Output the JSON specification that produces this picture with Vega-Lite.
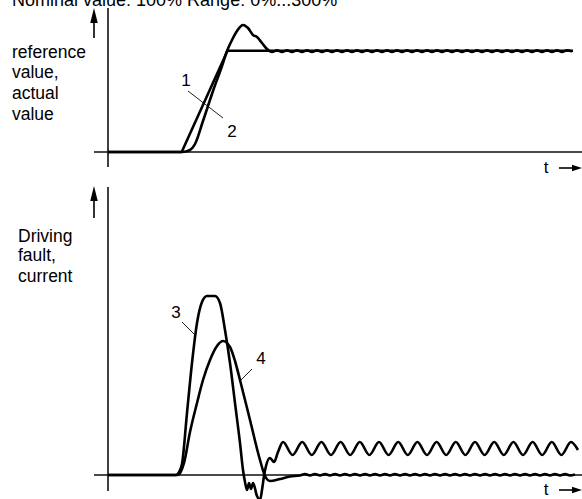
{
  "$schema": "https://vega.github.io/schema/vega-lite/v6.json",
  "width": 582,
  "height": 499,
  "autosize": {"type": "none"},
  "padding": 0,
  "background": "white",
  "config": {"view": {"stroke": null}, "font": "Liberation Sans"},
  "datasets": {
    "vaxes": [{"t": 108, "v": 8, "v2": 167}, {"t": 108, "v": 187, "v2": 491}],
    "haxes": [{"t": 94, "t2": 582, "v": 152}, {"t": 94, "t2": 582, "v": 475}],
    "upshaft": [{"t": 94, "v": 20, "v2": 38}, {"t": 94, "v": 198, "v2": 218}],
    "rshaft": [{"t": 559, "t2": 575, "v": 168}, {"t": 559, "t2": 575, "v": 490}],
    "upheads": [{"t": 94, "v": 15.5}, {"t": 94, "v": 193.5}],
    "rheads": [{"t": 577, "v": 168}, {"t": 577, "v": 490}],
    "leaders": [
      {"t": 188, "v": 91, "t2": 223, "v2": 118},
      {"t": 182, "v": 322, "t2": 195, "v2": 335},
      {"t": 252, "v": 369, "t2": 239, "v2": 382}
    ],
    "ramp": [
      {"s": "1", "t": 108, "v": 152},
      {"s": "1", "t": 181.7, "v": 152},
      {"s": "1", "t": 227.5, "v": 50.7},
      {"s": "1", "t": 573, "v": 50.7}
    ],
    "curves": [
      {"s": "2", "t": 108, "v": 152}, {"s": "2", "t": 182, "v": 152}, {"s": "2", "t": 190, "v": 150},
      {"s": "2", "t": 195, "v": 144}, {"s": "2", "t": 203, "v": 121}, {"s": "2", "t": 213, "v": 91},
      {"s": "2", "t": 222, "v": 66}, {"s": "2", "t": 227, "v": 51}, {"s": "2", "t": 232, "v": 40},
      {"s": "2", "t": 237, "v": 31}, {"s": "2", "t": 243, "v": 25}, {"s": "2", "t": 248, "v": 28},
      {"s": "2", "t": 253, "v": 35}, {"s": "2", "t": 257, "v": 37}, {"s": "2", "t": 262, "v": 43},
      {"s": "2", "t": 267, "v": 49},
      {"s": "2", "t": 272, "v": 52}, {"s": "2", "t": 277, "v": 50.3}, {"s": "2", "t": 282, "v": 52},
      {"s": "2", "t": 287, "v": 50.3}, {"s": "2", "t": 292, "v": 52}, {"s": "2", "t": 297, "v": 50.3},
      {"s": "2", "t": 302, "v": 52}, {"s": "2", "t": 307, "v": 50.3}, {"s": "2", "t": 312, "v": 52},
      {"s": "2", "t": 317, "v": 50.3}, {"s": "2", "t": 322, "v": 52}, {"s": "2", "t": 327, "v": 50.3},
      {"s": "2", "t": 332, "v": 52}, {"s": "2", "t": 337, "v": 50.3}, {"s": "2", "t": 342, "v": 52},
      {"s": "2", "t": 347, "v": 50.3}, {"s": "2", "t": 352, "v": 52}, {"s": "2", "t": 357, "v": 50.3},
      {"s": "2", "t": 362, "v": 52}, {"s": "2", "t": 367, "v": 50.3}, {"s": "2", "t": 372, "v": 52},
      {"s": "2", "t": 377, "v": 50.3}, {"s": "2", "t": 382, "v": 52}, {"s": "2", "t": 387, "v": 50.3},
      {"s": "2", "t": 392, "v": 52}, {"s": "2", "t": 397, "v": 50.3}, {"s": "2", "t": 402, "v": 52},
      {"s": "2", "t": 407, "v": 50.3}, {"s": "2", "t": 412, "v": 52}, {"s": "2", "t": 417, "v": 50.3},
      {"s": "2", "t": 422, "v": 52}, {"s": "2", "t": 427, "v": 50.3}, {"s": "2", "t": 432, "v": 52},
      {"s": "2", "t": 437, "v": 50.3}, {"s": "2", "t": 442, "v": 52}, {"s": "2", "t": 447, "v": 50.3},
      {"s": "2", "t": 452, "v": 52}, {"s": "2", "t": 457, "v": 50.3}, {"s": "2", "t": 462, "v": 52},
      {"s": "2", "t": 467, "v": 50.3}, {"s": "2", "t": 472, "v": 52}, {"s": "2", "t": 477, "v": 50.3},
      {"s": "2", "t": 482, "v": 52}, {"s": "2", "t": 487, "v": 50.3}, {"s": "2", "t": 492, "v": 52},
      {"s": "2", "t": 497, "v": 50.3}, {"s": "2", "t": 502, "v": 52}, {"s": "2", "t": 507, "v": 50.3},
      {"s": "2", "t": 512, "v": 52}, {"s": "2", "t": 517, "v": 50.3}, {"s": "2", "t": 522, "v": 52},
      {"s": "2", "t": 527, "v": 50.3}, {"s": "2", "t": 532, "v": 52}, {"s": "2", "t": 537, "v": 50.3},
      {"s": "2", "t": 542, "v": 52}, {"s": "2", "t": 547, "v": 50.3}, {"s": "2", "t": 552, "v": 52},
      {"s": "2", "t": 557, "v": 50.3}, {"s": "2", "t": 562, "v": 52}, {"s": "2", "t": 567, "v": 50.3},
      {"s": "2", "t": 572, "v": 51.5},

      {"s": "3", "t": 108, "v": 475}, {"s": "3", "t": 176, "v": 475}, {"s": "3", "t": 179, "v": 472},
      {"s": "3", "t": 182, "v": 464}, {"s": "3", "t": 187, "v": 413}, {"s": "3", "t": 192, "v": 363},
      {"s": "3", "t": 197, "v": 323}, {"s": "3", "t": 202, "v": 302}, {"s": "3", "t": 207, "v": 296},
      {"s": "3", "t": 215, "v": 296}, {"s": "3", "t": 220, "v": 303}, {"s": "3", "t": 225, "v": 330},
      {"s": "3", "t": 230, "v": 363}, {"s": "3", "t": 235, "v": 403}, {"s": "3", "t": 240, "v": 443},
      {"s": "3", "t": 243, "v": 470}, {"s": "3", "t": 245, "v": 482}, {"s": "3", "t": 247, "v": 490},
      {"s": "3", "t": 249, "v": 483}, {"s": "3", "t": 251, "v": 489}, {"s": "3", "t": 253, "v": 483},
      {"s": "3", "t": 257, "v": 496}, {"s": "3", "t": 260, "v": 500}, {"s": "3", "t": 262, "v": 490},
      {"s": "3", "t": 264, "v": 476}, {"s": "3", "t": 266, "v": 466}, {"s": "3", "t": 270, "v": 458},
      {"s": "3", "t": 274, "v": 462}, {"s": "3", "t": 278, "v": 452},
      {"s": "3", "t": 283, "v": 442}, {"s": "3", "t": 292.6, "v": 455},
      {"s": "3", "t": 302.2, "v": 442}, {"s": "3", "t": 311.8, "v": 455},
      {"s": "3", "t": 321.4, "v": 442}, {"s": "3", "t": 331, "v": 455},
      {"s": "3", "t": 340.6, "v": 442}, {"s": "3", "t": 350.2, "v": 455},
      {"s": "3", "t": 359.8, "v": 442}, {"s": "3", "t": 369.4, "v": 455},
      {"s": "3", "t": 379, "v": 442}, {"s": "3", "t": 388.6, "v": 455},
      {"s": "3", "t": 398.2, "v": 442}, {"s": "3", "t": 407.8, "v": 455},
      {"s": "3", "t": 417.4, "v": 442}, {"s": "3", "t": 427, "v": 455},
      {"s": "3", "t": 436.6, "v": 442}, {"s": "3", "t": 446.2, "v": 455},
      {"s": "3", "t": 455.8, "v": 442}, {"s": "3", "t": 465.4, "v": 455},
      {"s": "3", "t": 475, "v": 442}, {"s": "3", "t": 484.6, "v": 455},
      {"s": "3", "t": 494.2, "v": 442}, {"s": "3", "t": 503.8, "v": 455},
      {"s": "3", "t": 513.4, "v": 442}, {"s": "3", "t": 523, "v": 455},
      {"s": "3", "t": 532.6, "v": 442}, {"s": "3", "t": 542.2, "v": 455},
      {"s": "3", "t": 551.8, "v": 442}, {"s": "3", "t": 561.4, "v": 455},
      {"s": "3", "t": 571, "v": 442}, {"s": "3", "t": 578, "v": 450},

      {"s": "4", "t": 108, "v": 475}, {"s": "4", "t": 178, "v": 475}, {"s": "4", "t": 184, "v": 463},
      {"s": "4", "t": 190, "v": 432}, {"s": "4", "t": 197, "v": 403}, {"s": "4", "t": 203, "v": 380},
      {"s": "4", "t": 210, "v": 360}, {"s": "4", "t": 217, "v": 346}, {"s": "4", "t": 223, "v": 341},
      {"s": "4", "t": 230, "v": 347}, {"s": "4", "t": 235, "v": 361}, {"s": "4", "t": 240, "v": 380},
      {"s": "4", "t": 250, "v": 420}, {"s": "4", "t": 260, "v": 460}, {"s": "4", "t": 265, "v": 476},
      {"s": "4", "t": 270, "v": 481}, {"s": "4", "t": 280, "v": 479}, {"s": "4", "t": 290, "v": 476.5},
      {"s": "4", "t": 300, "v": 475.5},
      {"s": "4", "t": 305, "v": 474}, {"s": "4", "t": 310, "v": 475.4}, {"s": "4", "t": 315, "v": 474},
      {"s": "4", "t": 320, "v": 475.4}, {"s": "4", "t": 325, "v": 474}, {"s": "4", "t": 330, "v": 475.4},
      {"s": "4", "t": 335, "v": 474}, {"s": "4", "t": 340, "v": 475.4}, {"s": "4", "t": 345, "v": 474},
      {"s": "4", "t": 350, "v": 475.4}, {"s": "4", "t": 355, "v": 474}, {"s": "4", "t": 360, "v": 475.4},
      {"s": "4", "t": 365, "v": 474}, {"s": "4", "t": 370, "v": 475.4}, {"s": "4", "t": 375, "v": 474},
      {"s": "4", "t": 380, "v": 475.4}, {"s": "4", "t": 385, "v": 474}, {"s": "4", "t": 390, "v": 475.4},
      {"s": "4", "t": 395, "v": 474}, {"s": "4", "t": 400, "v": 475.4}, {"s": "4", "t": 405, "v": 474},
      {"s": "4", "t": 410, "v": 475.4}, {"s": "4", "t": 415, "v": 474}, {"s": "4", "t": 420, "v": 475.4},
      {"s": "4", "t": 425, "v": 474}, {"s": "4", "t": 430, "v": 475.4}, {"s": "4", "t": 435, "v": 474},
      {"s": "4", "t": 440, "v": 475.4}, {"s": "4", "t": 445, "v": 474}, {"s": "4", "t": 450, "v": 475.4},
      {"s": "4", "t": 455, "v": 474}, {"s": "4", "t": 460, "v": 475.4}, {"s": "4", "t": 465, "v": 474},
      {"s": "4", "t": 470, "v": 475.4}, {"s": "4", "t": 475, "v": 474}, {"s": "4", "t": 480, "v": 475.4},
      {"s": "4", "t": 485, "v": 474}, {"s": "4", "t": 490, "v": 475.4}, {"s": "4", "t": 495, "v": 474},
      {"s": "4", "t": 500, "v": 475.4}, {"s": "4", "t": 505, "v": 474}, {"s": "4", "t": 510, "v": 475.4},
      {"s": "4", "t": 515, "v": 474}, {"s": "4", "t": 520, "v": 475.4}, {"s": "4", "t": 525, "v": 474},
      {"s": "4", "t": 530, "v": 475.4}, {"s": "4", "t": 535, "v": 474}, {"s": "4", "t": 540, "v": 475.4},
      {"s": "4", "t": 545, "v": 474}, {"s": "4", "t": 550, "v": 475.4}, {"s": "4", "t": 555, "v": 474},
      {"s": "4", "t": 560, "v": 475.4}, {"s": "4", "t": 565, "v": 474}, {"s": "4", "t": 570, "v": 475.4},
      {"s": "4", "t": 575, "v": 474.5}
    ],
    "labels": [
      {"t": 12, "v": 53, "label": "reference"},
      {"t": 12, "v": 73, "label": "value,"},
      {"t": 12, "v": 94, "label": "actual"},
      {"t": 12, "v": 115, "label": "value"},
      {"t": 18, "v": 237, "label": "Driving"},
      {"t": 18, "v": 256, "label": "fault,"},
      {"t": 18, "v": 277, "label": "current"}
    ],
    "marks": [
      {"t": 186, "v": 81, "label": "1"},
      {"t": 232, "v": 132, "label": "2"},
      {"t": 176, "v": 313, "label": "3"},
      {"t": 261, "v": 359, "label": "4"},
      {"t": 546, "v": 168, "label": "t"},
      {"t": 546, "v": 490, "label": "t"}
    ],
    "title": [{"t": 12, "v": 5.5, "label": "Nominal value: 100%  Range: 0%...300%"}]
  },
  "layer": [
    {
      "data": {"name": "haxes"},
      "mark": {"type": "rule", "stroke": "#4a4a4a", "strokeWidth": 2},
      "encoding": {
        "x": {"field": "t", "type": "quantitative", "scale": {"domain": [0, 582], "nice": false, "zero": false}, "axis": null},
        "x2": {"field": "t2"},
        "y": {"field": "v", "type": "quantitative", "scale": {"domain": [0, 499], "reverse": true, "nice": false, "zero": false}, "axis": null}
      }
    },
    {
      "data": {"name": "vaxes"},
      "mark": {"type": "rule", "stroke": "#000", "strokeWidth": 1.5},
      "encoding": {
        "x": {"field": "t", "type": "quantitative", "axis": null},
        "y": {"field": "v", "type": "quantitative", "axis": null},
        "y2": {"field": "v2"}
      }
    },
    {
      "data": {"name": "upshaft"},
      "mark": {"type": "rule", "stroke": "#000", "strokeWidth": 1.6},
      "encoding": {
        "x": {"field": "t", "type": "quantitative", "axis": null},
        "y": {"field": "v", "type": "quantitative", "axis": null},
        "y2": {"field": "v2"}
      }
    },
    {
      "data": {"name": "rshaft"},
      "mark": {"type": "rule", "stroke": "#000", "strokeWidth": 1.6},
      "encoding": {
        "x": {"field": "t", "type": "quantitative", "axis": null},
        "x2": {"field": "t2"},
        "y": {"field": "v", "type": "quantitative", "axis": null}
      }
    },
    {
      "data": {"name": "upheads"},
      "mark": {"type": "point", "shape": "M-0.5,1L0,-1L0.5,1Z", "filled": true, "fill": "#000", "stroke": null, "size": 225, "opacity": 1},
      "encoding": {
        "x": {"field": "t", "type": "quantitative", "axis": null},
        "y": {"field": "v", "type": "quantitative", "axis": null}
      }
    },
    {
      "data": {"name": "rheads"},
      "mark": {"type": "point", "shape": "M-1,-0.65L1,0L-1,0.65Z", "filled": true, "fill": "#000", "stroke": null, "size": 100, "opacity": 1},
      "encoding": {
        "x": {"field": "t", "type": "quantitative", "axis": null},
        "y": {"field": "v", "type": "quantitative", "axis": null}
      }
    },
    {
      "data": {"name": "leaders"},
      "mark": {"type": "rule", "stroke": "#222", "strokeWidth": 1},
      "encoding": {
        "x": {"field": "t", "type": "quantitative", "axis": null},
        "x2": {"field": "t2"},
        "y": {"field": "v", "type": "quantitative", "axis": null},
        "y2": {"field": "v2"}
      }
    },
    {
      "data": {"name": "ramp"},
      "mark": {"type": "line", "stroke": "#000", "strokeWidth": 2.6, "interpolate": "linear", "strokeJoin": "round"},
      "encoding": {
        "x": {"field": "t", "type": "quantitative", "axis": null},
        "y": {"field": "v", "type": "quantitative", "axis": null}
      }
    },
    {
      "data": {"name": "curves"},
      "mark": {"type": "line", "stroke": "#000", "strokeWidth": 2.6, "interpolate": "monotone", "strokeJoin": "round"},
      "encoding": {
        "x": {"field": "t", "type": "quantitative", "axis": null},
        "y": {"field": "v", "type": "quantitative", "axis": null},
        "detail": {"field": "s", "type": "nominal"}
      }
    },
    {
      "data": {"name": "labels"},
      "mark": {"type": "text", "align": "left", "baseline": "middle", "fontSize": 17.5, "font": "Liberation Sans", "fill": "#000"},
      "encoding": {
        "x": {"field": "t", "type": "quantitative", "axis": null},
        "y": {"field": "v", "type": "quantitative", "axis": null},
        "text": {"field": "label"}
      }
    },
    {
      "data": {"name": "marks"},
      "mark": {"type": "text", "align": "center", "baseline": "middle", "fontSize": 17, "font": "Liberation Sans", "fill": "#000"},
      "encoding": {
        "x": {"field": "t", "type": "quantitative", "axis": null},
        "y": {"field": "v", "type": "quantitative", "axis": null},
        "text": {"field": "label"}
      }
    },
    {
      "data": {"name": "title"},
      "mark": {"type": "text", "align": "left", "baseline": "alphabetic", "fontSize": 18, "font": "Liberation Sans", "fill": "#000"},
      "encoding": {
        "x": {"field": "t", "type": "quantitative", "axis": null},
        "y": {"field": "v", "type": "quantitative", "axis": null},
        "text": {"field": "label"}
      }
    }
  ]
}
